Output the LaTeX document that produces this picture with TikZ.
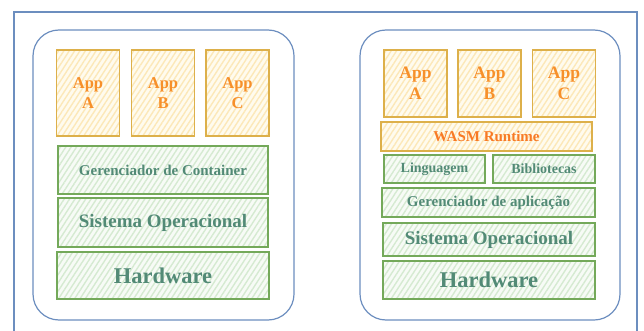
\documentclass[tikz,border=0pt]{standalone}
\usepackage{fontspec}
\setmainfont{Liberation Serif}
\usetikzlibrary{patterns.meta}
\definecolor{frameblue}{HTML}{6C8EBF}
\definecolor{appline}{HTML}{DDB04A}
\definecolor{appfill}{HTML}{FFFBEE}
\definecolor{apphatch}{HTML}{FCE8B8}
\definecolor{apptext}{HTML}{F7902A}
\definecolor{layline}{HTML}{74A95A}
\definecolor{layfill}{HTML}{F7FBF6}
\definecolor{layhatch}{HTML}{D5EAD1}
\definecolor{laytext}{HTML}{528A76}
\tikzset{
  appbox/.style={draw=appline,line width=1.3pt,inner sep=0pt,align=center,
    preaction={fill=appfill},pattern={Lines[angle=57,distance=4.5pt,line width=1.4pt]},pattern color=apphatch,
    text=apptext,font=\bfseries},
  laybox/.style={draw=layline,line width=1.3pt,inner sep=0pt,align=center,
    preaction={fill=layfill},pattern={Lines[angle=57,distance=4.5pt,line width=1.4pt]},pattern color=layhatch,
    text=laytext,font=\bfseries},
  holder/.style={draw=frameblue,line width=1.2pt,rounded corners=26pt}
}
\begin{document}
\begin{tikzpicture}[x=1pt,y=-1pt]
\useasboundingbox (0,0) rectangle (644,331);

%%%Outer frame
\draw[frameblue,line width=1.2pt] (14,331) -- (14,12) -- (637,12) -- (637,331);

%%%Container stack
\begin{scope}
%Rounded holder
\draw[holder] (33,30) rectangle (294,320);
%Apps A, B and C
\foreach \x/\t in {88/A,163/B,237.5/C}
  \node[appbox,minimum width=63pt,minimum height=86pt,font=\bfseries\fontsize{16.5}{20}\selectfont] (lapp\t) at (\x,93) {App\\\t};
%Layers
\node[laybox,minimum width=210pt,minimum height=48pt,font=\bfseries\fontsize{15}{17}\selectfont] (lcont) at (163,170) {Gerenciador de Container};
\node[laybox,minimum width=210pt,minimum height=49pt,font=\bfseries\fontsize{19}{22}\selectfont] (lso) at (163,222.5) {Sistema Operacional};
\node[laybox,minimum width=212pt,minimum height=47pt,font=\bfseries\fontsize{22.5}{26}\selectfont] (lhw) at (163,275.5) {Hardware};
\end{scope}

%%%WASM stack
\begin{scope}
%Rounded holder
\draw[holder] (360,30) rectangle (620,320);
%Apps A, B and C
\foreach \x/\t in {415.5/A,489.5/B,564/C}
  \node[appbox,minimum width=63pt,minimum height=67pt,font=\bfseries\fontsize{17.5}{21}\selectfont] (rapp\t) at (\x,83.5) {App\\\t};
%Runtime
\node[appbox,minimum width=211pt,minimum height=29pt,font=\bfseries\fontsize{15}{17}\selectfont,text=apptext!85!red] (rwasm) at (486.5,136.5) {WASM Runtime};
%Layers
\node[laybox,minimum width=101pt,minimum height=28pt,font=\bfseries\fontsize{14}{16}\selectfont] (rling) at (434.5,169) {Linguagem};
\node[laybox,minimum width=102pt,minimum height=28pt,font=\bfseries\fontsize{14}{16}\selectfont] (rbib) at (544,169) {Bibliotecas};
\node[laybox,minimum width=213pt,minimum height=29pt,font=\bfseries\fontsize{15}{17}\selectfont] (rger) at (488.5,202.5) {Gerenciador de aplicação};
\node[laybox,minimum width=212pt,minimum height=33pt,font=\bfseries\fontsize{19}{22}\selectfont] (rso) at (489,239.5) {Sistema Operacional};
\node[laybox,minimum width=212pt,minimum height=38pt,font=\bfseries\fontsize{22.5}{26}\selectfont] (rhw) at (489,280) {Hardware};
\end{scope}

\end{tikzpicture}
\end{document}
